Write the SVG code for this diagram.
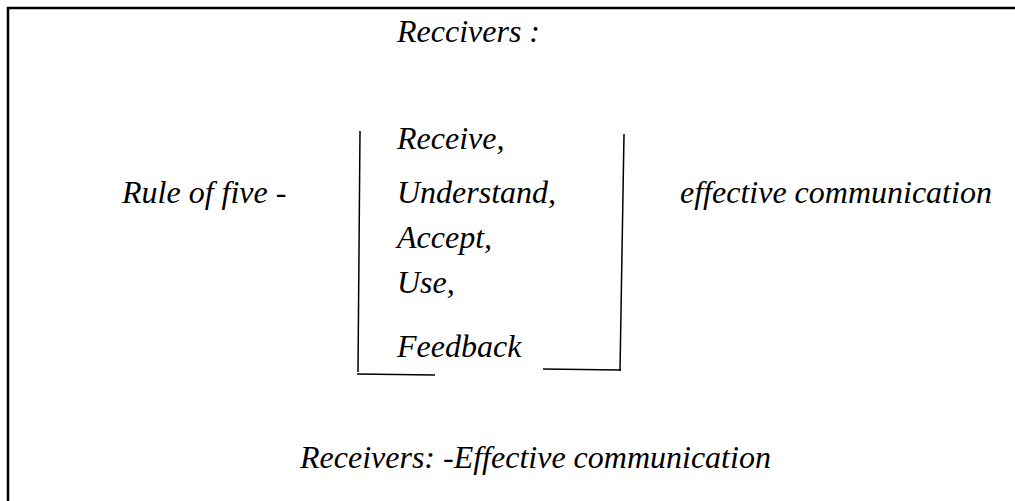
<svg xmlns="http://www.w3.org/2000/svg" width="1015" height="501" viewBox="0 0 1015 501">
<style>
.ln{stroke:#000;stroke-width:1.5;fill:none}
.bd{stroke:#000;stroke-width:2.5;fill:none}
</style>
<rect x="0" y="0" width="1015" height="501" fill="#fff"/>
<g id="frame"><path class="bd" d="M8 501 V8 H1015"/></g>
<g id="connectors">
<path class="ln" d="M360 131 L358 372"/>
<path class="ln" d="M357 374 L435 375"/>
<path class="ln" d="M624 134 L620 371"/>
<path class="ln" d="M543 369 L621 370"/>
</g>
<g font-family="Liberation Serif, Times New Roman, serif" font-style="italic" font-size="32" fill="#000">
<g id="title"><text x="397" y="42">Reccivers :</text></g>
<g id="rule"><text x="122" y="203">Rule of five -</text></g>
<g id="list">
<text x="397" y="149">Receive,</text>
<text x="397" y="203">Understand,</text>
<text x="397" y="248">Accept,</text>
<text x="397" y="293">Use,</text>
<text x="397" y="357">Feedback</text>
</g>
<g id="effective"><text x="680" y="203">effective communication</text></g>
<g id="footer"><text x="300" y="468">Receivers: -Effective communication</text></g>
</g>
</svg>
